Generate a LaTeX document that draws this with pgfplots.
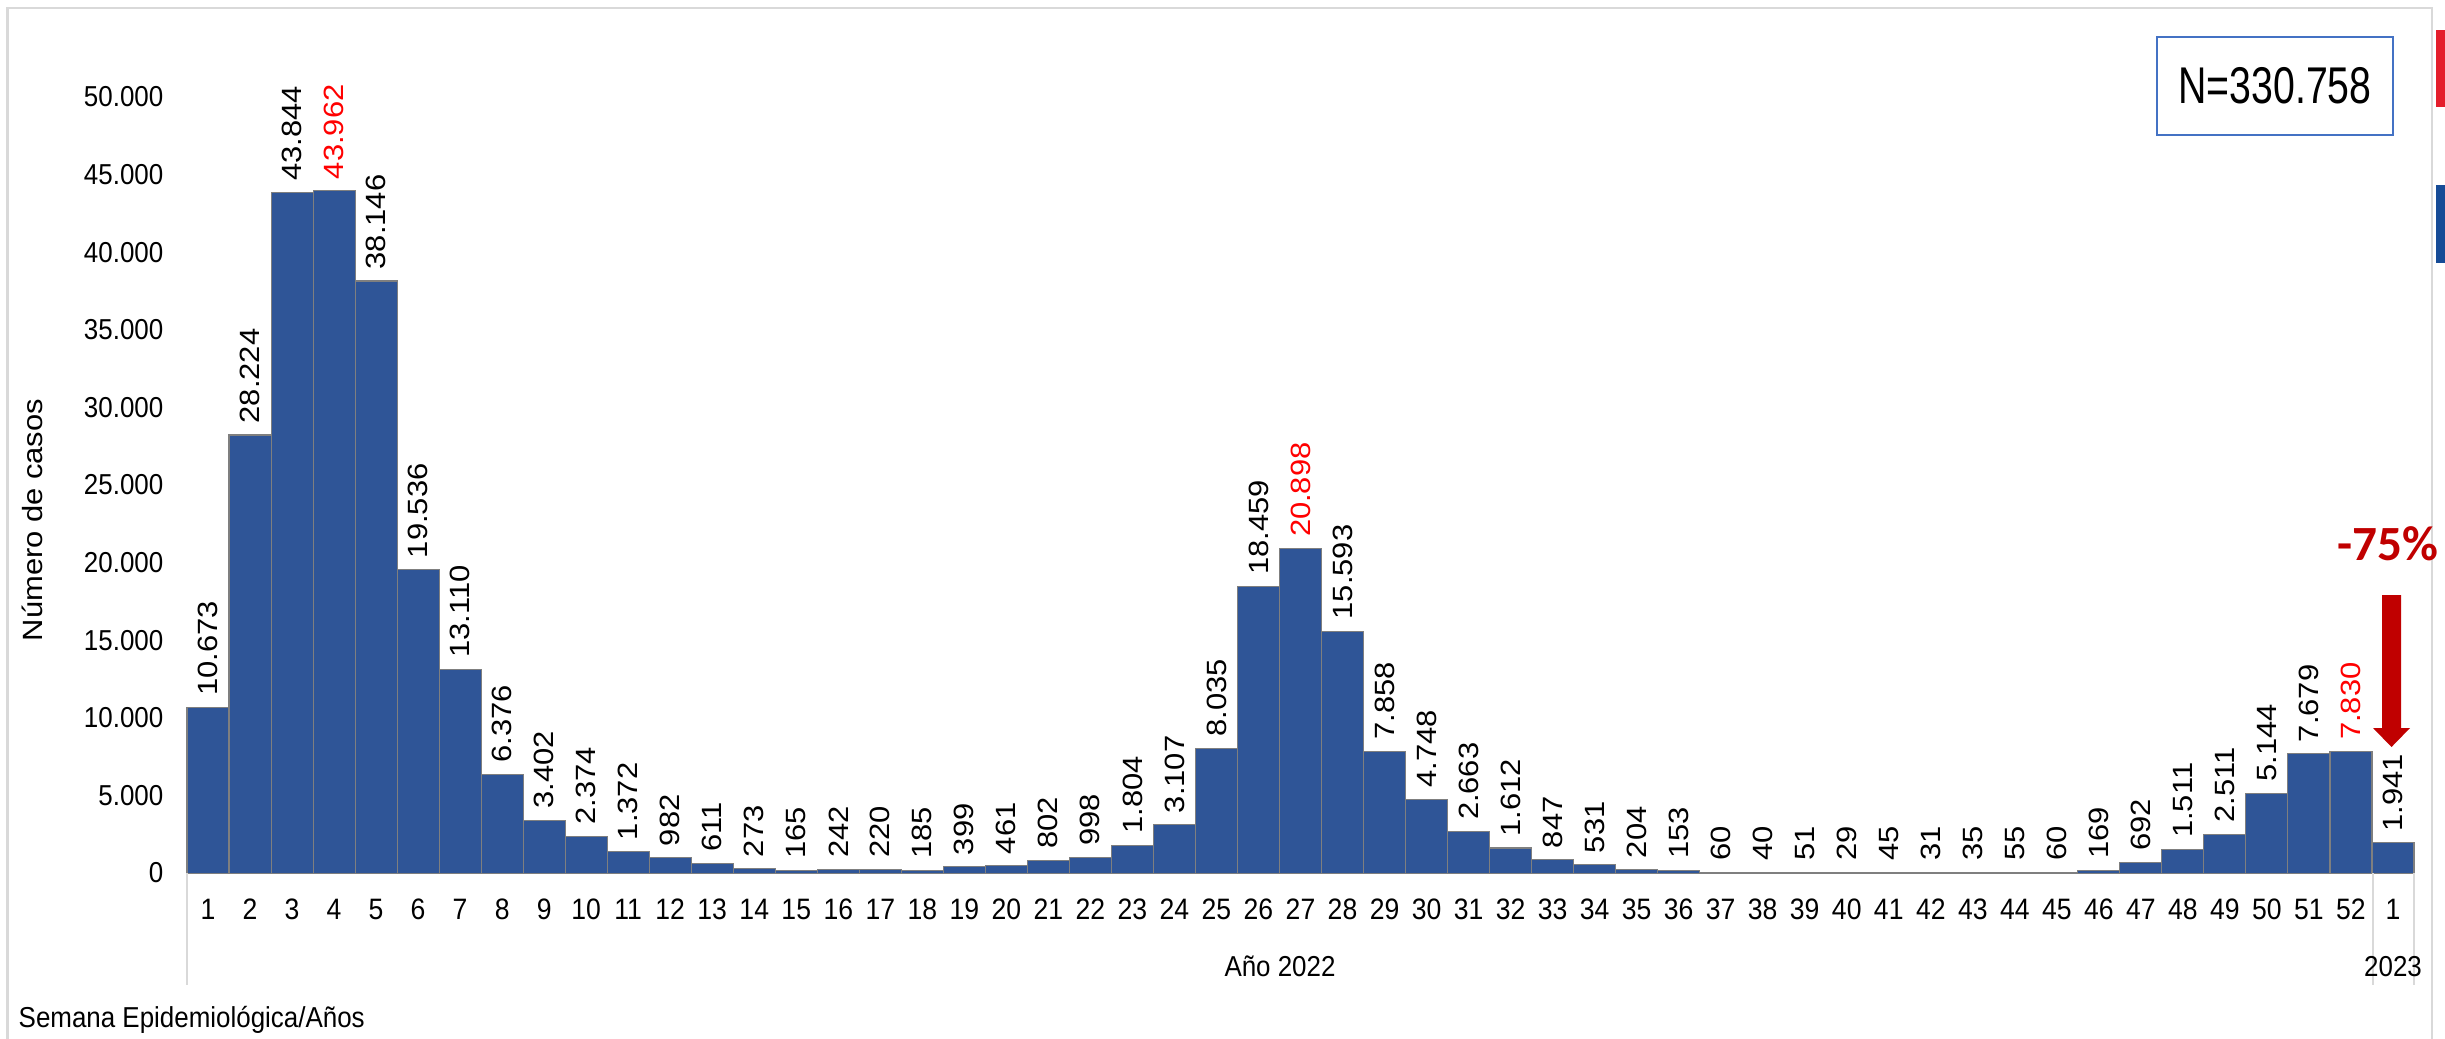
\documentclass[border=0pt]{standalone}
\usepackage{fontspec}
\setmainfont{Liberation Sans}[FakeStretch=0.9]
\newfontfamily\plainfont{Liberation Sans}
\newfontfamily\nfont{Liberation Sans}[FakeStretch=0.76]
\newfontfamily\calfont{Carlito}
\usepackage{graphicx}
\usepackage{pgfplots}
\pgfplotsset{compat=1.18}
\usepackage{pgfplotstable}
\definecolor{barblue}{RGB}{47,85,151}
\definecolor{bargray}{RGB}{127,127,127}
\definecolor{gridgray}{RGB}{217,217,217}
\definecolor{arrowred}{RGB}{192,0,0}
\definecolor{tabred}{RGB}{228,30,43}
\definecolor{tabblue}{RGB}{22,75,150}
\definecolor{boxblue}{RGB}{68,114,196}
\definecolor{lblred}{RGB}{255,0,0}

\pgfplotstableread{
x y
0 10673
1 28224
2 43844
3 43962
4 38146
5 19536
6 13110
7 6376
8 3402
9 2374
10 1372
11 982
12 611
13 273
14 165
15 242
16 220
17 185
18 399
19 461
20 802
21 998
22 1804
23 3107
24 8035
25 18459
26 20898
27 15593
28 7858
29 4748
30 2663
31 1612
32 847
33 531
34 204
35 153
36 60
37 40
38 51
39 29
40 45
41 31
42 35
43 55
44 60
45 169
46 692
47 1511
48 2511
49 5144
50 7679
51 7830
52 1941
}\datatable

\begin{document}
\begin{tikzpicture}
\useasboundingbox (0,0) rectangle (244.5mm,-103.8mm);
\begin{scope}[x=0.1mm,y=-0.1mm]
  % outer frame
  \draw[gridgray, line width=0.6pt] (7.5,1040) -- (7.5,8) -- (2432,8) -- (2432,1040);
  % cropped legend tabs
  \fill[tabred] (2436,30) rectangle (2446,107);
  \fill[tabblue] (2436,185) rectangle (2446,263);
\end{scope}

\begin{axis}[
  scale only axis,
  width=222.7mm, height=77.6mm,
  at={(18.7mm,-87.3mm)}, anchor=south west,
  xmin=-0.5, xmax=52.5, ymin=0, ymax=50000,
  enlargelimits=false,
  clip=false,
  axis x line*=bottom, axis y line*=left,
  x axis line style={draw=gridgray, line width=0.6pt},
  y axis line style={draw=none},
  major tick length=0pt,
  xtick={0,...,52},
  xticklabels={1,2,3,4,5,6,7,8,9,10,11,12,13,14,15,16,17,18,19,20,21,22,23,24,25,26,27,28,29,30,31,32,33,34,35,36,37,38,39,40,41,42,43,44,45,46,47,48,49,50,51,52,1},
  ytick={0,5000,10000,15000,20000,25000,30000,35000,40000,45000,50000},
  scaled y ticks=false,
  yticklabel style={font=\fontsize{8.2}{9}\selectfont, inner sep=0pt, anchor=east, xshift=-2.3mm,
    /pgf/number format/fixed, /pgf/number format/1000 sep={.}, /pgf/number format/assume math mode=true},
  xticklabel style={font=\fontsize{8.4}{9}\selectfont, inner sep=0pt, anchor=north, yshift=-2.5mm},
  every node near coord/.append style={rotate=90, anchor=west, inner xsep=1.1mm, inner ysep=0pt},
]
\addplot[ybar, bar width=1, bar shift=0pt, fill=barblue, draw=bargray, line width=0.3pt]
  table[x=x,y=y]{\datatable};

% black data labels
\addplot[draw=none, mark=none,
  nodes near coords={\plainfont\fontsize{8.8}{9}\selectfont\scalebox{1}[0.9]{\pgfmathprintnumber[fixed,1000 sep={.},assume math mode=true]{\pgfplotspointmeta}}},
  point meta=y] coordinates {
(0,10673) (1,28224) (2,43844) (4,38146) (5,19536) (6,13110) (7,6376) (8,3402)
(9,2374) (10,1372) (11,982) (12,611) (13,273) (14,165) (15,242) (16,220) (17,185)
(18,399) (19,461) (20,802) (21,998) (22,1804) (23,3107) (24,8035) (25,18459)
(27,15593) (28,7858) (29,4748) (30,2663) (31,1612) (32,847) (33,531) (34,204)
(35,153) (36,60) (37,40) (38,51) (39,29) (40,45) (41,31) (42,35) (43,55) (44,60)
(45,169) (46,692) (47,1511) (48,2511) (49,5144) (50,7679) (52,1941)
};
% red data labels (maxima)
\addplot[draw=none, mark=none,
  nodes near coords={\plainfont\fontsize{8.8}{9}\selectfont\color{lblred}\scalebox{1}[0.9]{\pgfmathprintnumber[fixed,1000 sep={.},assume math mode=true]{\pgfplotspointmeta}}},
  point meta=y] coordinates {
(3,43962) (26,20898) (51,7830)
};

% arrow
\fill[arrowred] (axis cs:51.739,17900) -- (axis cs:52.191,17900) -- (axis cs:52.191,9343)
  -- (axis cs:52.405,9343) -- (axis cs:51.965,8119) -- (axis cs:51.525,9343)
  -- (axis cs:51.739,9343) -- cycle;
\end{axis}

\begin{scope}[x=0.1mm,y=-0.1mm]
  % category group separators
  \draw[gridgray, line width=0.6pt] (187,873) -- (187,985);
  \draw[gridgray, line width=0.6pt] (2373,873) -- (2373,985);
  \draw[gridgray, line width=0.6pt] (2414,873) -- (2414,985);
  % group labels
  \node[anchor=base, inner sep=0pt, font=\fontsize{8.2}{9}\selectfont] at (1280,976) {Año 2022};
  \node[anchor=base, inner sep=0pt, font=\fontsize{8.2}{9}\selectfont] at (2393,976) {2023};
  \node[anchor=base west, inner sep=0pt, font=\fontsize{8.2}{9}\selectfont] at (18,1027) {Semana Epidemiológica/Años};
  % y label
  \node[rotate=90, inner sep=0pt] at (32,520) {\plainfont\fontsize{8.8}{9}\selectfont\scalebox{1}[0.9]{Número de casos}};
  % N box
  \draw[boxblue, line width=0.6pt] (2157,37) rectangle (2393,135);
  \node[inner sep=0pt] at (2275,86) {\nfont\fontsize{14.7}{15}\selectfont N=330.758};
  % -75%
  \node[anchor=base, inner sep=0pt, text=arrowred] at (2388,560) {\calfont\bfseries\fontsize{14}{15}\selectfont -75\%};
\end{scope}
\end{tikzpicture}
\end{document}
